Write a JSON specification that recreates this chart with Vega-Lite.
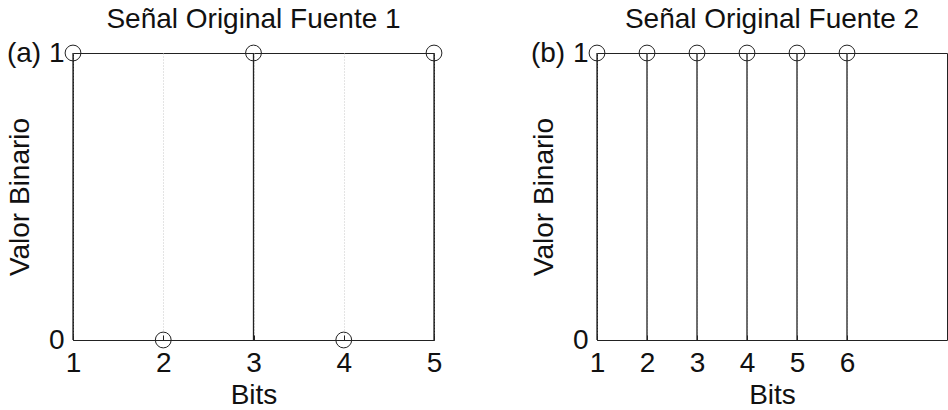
{
  "$schema": "https://vega.github.io/schema/vega-lite/v6.json",
  "background": "white",
  "padding": {"left": 5, "top": 5, "right": 0, "bottom": 0},
  "bounds": "flush",
  "spacing": 163,
  "config": {
    "font": "Liberation Sans",
    "view": {"stroke": "#222222", "strokeWidth": 1},
    "axis": {
      "labelFont": "Liberation Sans",
      "labelFontSize": 28,
      "labelColor": "#111111",
      "labelFlush": false,
      "titleFont": "Liberation Sans",
      "titleFontSize": 28,
      "titleFontWeight": "normal",
      "titleColor": "#111111",
      "domain": false,
      "ticks": true,
      "tickSize": -5,
      "tickColor": "#222222",
      "grid": false
    },
    "title": {"font": "Liberation Sans", "fontSize": 28, "fontWeight": "normal", "color": "#111111", "frame": "group", "offset": 5}
  },
  "hconcat": [
    {
      "width": 361,
      "height": 287,
      "title": "Señal Original Fuente 1",
      "data": {"values": [
        {"bit": 1, "val": 1},
        {"bit": 2, "val": 0},
        {"bit": 3, "val": 1},
        {"bit": 4, "val": 0},
        {"bit": 5, "val": 1}
      ]},
      "layer": [
        {
          "mark": {"type": "rule", "color": "#222222", "strokeWidth": 1.3},
          "encoding": {
            "x": {"field": "bit", "type": "quantitative", "title": "Bits",
              "scale": {"domain": [1, 5], "nice": false, "zero": false},
              "axis": {"values": [1, 2, 3, 4, 5], "format": "d", "grid": true, "gridDash": [1, 2], "gridColor": "#c8c8c8", "labelPadding": 14, "titlePadding": 4}},
            "y": {"field": "val", "type": "quantitative", "title": "Valor Binario",
              "scale": {"domain": [0, 1], "nice": false, "zero": false},
              "axis": {"values": [0, 1], "format": "d", "labelExpr": "datum.value == 1 ? '(a) 1' : '0'", "labelPadding": 14, "titleX": -39}},
            "y2": {"datum": 0}
          }
        },
        {
          "mark": {"type": "point", "shape": "circle", "size": 250, "filled": false, "color": "#222222", "strokeWidth": 1, "opacity": 1},
          "encoding": {
            "x": {"field": "bit", "type": "quantitative", "title": "Bits"},
            "y": {"field": "val", "type": "quantitative", "title": "Valor Binario"}
          }
        }
      ]
    },
    {
      "width": 350,
      "height": 287,
      "title": "Señal Original Fuente 2",
      "data": {"values": [
        {"bit": 1, "val": 1},
        {"bit": 2, "val": 1},
        {"bit": 3, "val": 1},
        {"bit": 4, "val": 1},
        {"bit": 5, "val": 1},
        {"bit": 6, "val": 1}
      ]},
      "layer": [
        {
          "mark": {"type": "rule", "color": "#222222", "strokeWidth": 1.3},
          "encoding": {
            "x": {"field": "bit", "type": "quantitative", "title": "Bits",
              "scale": {"domain": [1, 8], "nice": false, "zero": false},
              "axis": {"values": [1, 2, 3, 4, 5, 6], "format": "d", "grid": true, "gridDash": [1, 2], "gridColor": "#c8c8c8", "labelPadding": 14, "titlePadding": 4}},
            "y": {"field": "val", "type": "quantitative", "title": "Valor Binario",
              "scale": {"domain": [0, 1], "nice": false, "zero": false},
              "axis": {"values": [0, 1], "format": "d", "labelExpr": "datum.value == 1 ? '(b) 1' : '0'", "labelPadding": 14, "titleX": -39}},
            "y2": {"datum": 0}
          }
        },
        {
          "mark": {"type": "point", "shape": "circle", "size": 250, "filled": false, "color": "#222222", "strokeWidth": 1, "opacity": 1},
          "encoding": {
            "x": {"field": "bit", "type": "quantitative", "title": "Bits"},
            "y": {"field": "val", "type": "quantitative", "title": "Valor Binario"}
          }
        }
      ]
    }
  ]
}
